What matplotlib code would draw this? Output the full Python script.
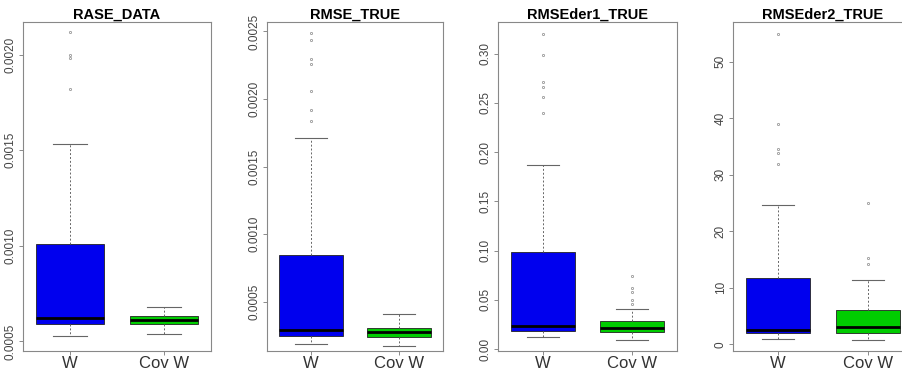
import matplotlib
matplotlib.use("Agg")
import matplotlib.pyplot as plt
from matplotlib.ticker import FormatStrFormatter

plt.rcParams['font.family'] = ['Liberation Sans', 'DejaVu Sans']

titles = ["RASE_DATA", "RMSE_TRUE", "RMSEder1_TRUE", "RMSEder2_TRUE"]
groups = ["W", "Cov W"]
box_colors = ["#0000EE", "#00CC00"]

# one entry per panel, each as [W, Cov W]
whis_lo = [[0.000526, 0.00054], [0.000192, 0.000175], [0.0124, 0.0094], [1.0, 0.8]]
q1 = [[0.00059, 0.000591], [0.000245, 0.00024], [0.0185, 0.0175], [1.9, 2.0]]
med = [[0.00062, 0.000614], [0.000292, 0.000275], [0.0235, 0.021], [2.6, 3.0]]
q3 = [[0.00101, 0.000632], [0.00085, 0.00031], [0.098, 0.0285], [11.7, 6.1]]
whis_hi = [[0.00153, 0.00068], [0.00171, 0.00041], [0.187, 0.041], [24.6, 11.4]]
fliers = [
    [[0.00212, 0.0020, 0.00198, 0.00182], []],
    [[0.00249, 0.00244, 0.0023, 0.00226, 0.00206, 0.00192, 0.00184], []],
    [[0.32, 0.298, 0.271, 0.266, 0.256, 0.24], [0.074, 0.062, 0.058, 0.050, 0.046]],
    [[54.8, 38.9, 34.5, 33.8, 31.9], [25.0, 15.2, 14.2]],
]

y_limits = [(0.00045, 0.00217), (0.000137, 0.00257), (-0.002, 0.332), (-1.2, 57.0)]
y_ticks = [
    [0.0005, 0.0010, 0.0015, 0.0020],
    [0.0005, 0.0010, 0.0015, 0.0020, 0.0025],
    [0.00, 0.05, 0.10, 0.15, 0.20, 0.25, 0.30],
    [0, 10, 20, 30, 40, 50],
]
y_formats = ["%.4f", "%.4f", "%.2f", "%d"]

# axes placement in figure pixels (left, width)
panel_px = [(23, 188), (267, 176), (498, 179), (733, 180)]
W, H = 902, 370
bottom = 1 - 351 / H
height = (351 - 22) / H

fig = plt.figure(figsize=(W / 100, H / 100), dpi=100)

for i in range(4):
    left, width = panel_px[i]
    ax = fig.add_axes([left / W, bottom, width / W, height])
    stats = []
    for j in range(2):
        stats.append({
            "label": groups[j],
            "whislo": whis_lo[i][j], "q1": q1[i][j], "med": med[i][j],
            "q3": q3[i][j], "whishi": whis_hi[i][j], "fliers": fliers[i][j],
        })
    bp = ax.bxp(
        stats, positions=[1, 2], widths=0.72, capwidths=0.36,
        patch_artist=True, showfliers=True,
        boxprops=dict(edgecolor="#222222", linewidth=0.6),
        medianprops=dict(color="black", linewidth=2.0, solid_capstyle="butt"),
        whiskerprops=dict(color="#666666", linewidth=0.7, linestyle=(0, (2, 2))),
        capprops=dict(color="#666666", linewidth=0.8),
        flierprops=dict(marker="o", markersize=1.6, markerfacecolor="none",
                        markeredgecolor="#999999", markeredgewidth=0.6),
    )
    for patch, c in zip(bp["boxes"], box_colors):
        patch.set_facecolor(c)

    ax.set_xlim(0.5, 2.5)
    ax.set_ylim(*y_limits[i])
    ax.set_yticks(y_ticks[i])
    ax.yaxis.set_major_formatter(FormatStrFormatter(y_formats[i]))
    ax.set_xticks([1, 2])
    ax.set_xticklabels(groups, fontsize=12, color="#333333")
    for lab in ax.get_yticklabels():
        lab.set_rotation(90)
        lab.set_va("center")
    ax.tick_params(axis="y", labelsize=8.5, labelcolor="#444444", length=3,
                   width=0.6, color="#777777", pad=1.5)
    ax.tick_params(axis="x", length=3, width=0.6, color="#777777", pad=0.5)
    for s in ax.spines.values():
        s.set_color("#888888")
        s.set_linewidth(0.8)
    ax.set_title(titles[i], fontsize=10.5, fontweight="bold", pad=1.5)

fig.savefig("out.png", dpi=100)
